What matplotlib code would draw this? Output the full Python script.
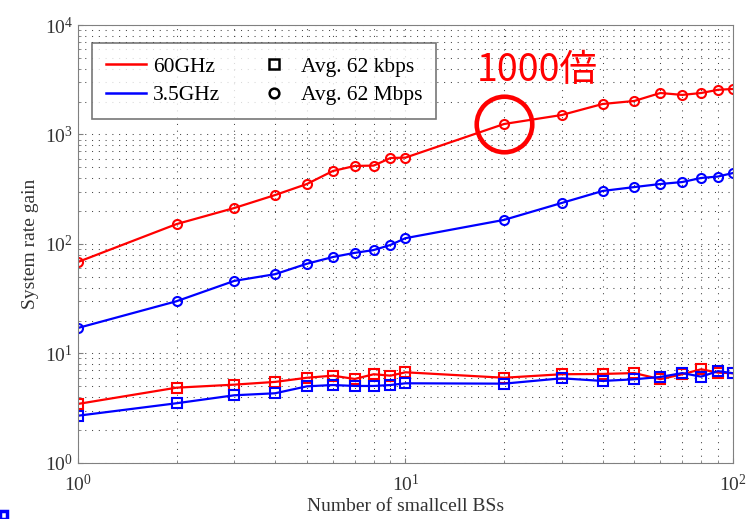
import matplotlib.pyplot as plt
import matplotlib.patches as mpatches
from matplotlib.lines import Line2D

# Number of small cell BSs
n_bs = [1, 2, 3, 4, 5, 6, 7, 8, 9, 10, 20, 30, 40, 50, 60, 70, 80, 90, 100]

# System rate gain, Avg. 62 Mbps (circles)
gain_60ghz_mbps = [68.5, 152, 213, 280, 353, 464, 516, 520, 610, 615,
                   1247, 1507, 1900, 2025, 2393, 2300, 2393, 2560, 2605]
gain_35ghz_mbps = [17.1, 30, 46, 53, 66, 76, 83, 88, 98, 113,
                   166, 237, 305, 331, 353, 368, 401, 413, 445]

# System rate gain, Avg. 62 kbps (squares)
gain_60ghz_kbps = [3.46, 4.87, 5.19, 5.5, 6.0, 6.27, 5.85, 6.46, 6.27, 6.73,
                   6.0, 6.46, 6.5, 6.62, 5.82, 6.46, 7.17, 6.68, 6.6]
gain_35ghz_kbps = [2.7, 3.51, 4.15, 4.33, 5.01, 5.15, 5.05, 5.05, 5.15, 5.34,
                   5.3, 5.93, 5.61, 5.81, 6.1, 6.62, 6.14, 6.9, 6.6]

plt.rcParams['font.family'] = ['Liberation Serif', 'DejaVu Serif']
plt.rcParams['mathtext.fontset'] = 'stix'

fig = plt.figure(figsize=(7.47, 5.19), dpi=100)
ax = fig.add_axes([0.1044, 0.108, 0.8768, 0.8438])

style = dict(linewidth=1.6, markersize=6.5, markeredgewidth=1.5,
             markerfacecolor='none')
ax.plot(n_bs, gain_60ghz_mbps, color='#ff0000', marker='o', **style)
ax.plot(n_bs, gain_35ghz_mbps, color='#0000ff', marker='o', **style)
ax.plot(n_bs, gain_60ghz_kbps, color='#ff0000', marker='s', **style)
ax.plot(n_bs, gain_35ghz_kbps, color='#0000ff', marker='s', **style)

ax.set_xscale('log')
ax.set_yscale('log')
ax.set_xlim(1, 100)
ax.set_ylim(1, 1e4)

ax.grid(True, which='both', linestyle=(0, (1, 5.5)), color='#444444', linewidth=0.75)
for s in ax.spines.values():
    s.set_color('#808080')
ax.tick_params(which='both', direction='in', colors='#808080', labelcolor='#333333',
               labelsize=14)
ax.tick_params(axis='x', pad=8)

ax.set_xlabel('Number of smallcell BSs', fontsize=14, color='#333333', labelpad=2)
ax.set_ylabel('System rate gain', fontsize=14, color='#333333', labelpad=4)

handles = [
    Line2D([], [], color='#ff0000', linewidth=1.8),
    Line2D([], [], color='#0000ff', linewidth=1.8),
    Line2D([], [], color='black', marker='s', linestyle='none', markersize=7,
           markerfacecolor='none', markeredgewidth=1.8),
    Line2D([], [], color='black', marker='o', linestyle='none', markersize=7,
           markerfacecolor='none', markeredgewidth=1.8),
]
labels = ['60GHz', '3.5GHz', 'Avg. 62 kbps', 'Avg. 62 Mbps']
leg = ax.legend(handles, labels, ncol=2, loc='upper left',
                bbox_to_anchor=(0.022, 0.959), fontsize=15.5, frameon=True,
                fancybox=False, edgecolor='#555555', handlelength=1.85,
                handletextpad=0.3, columnspacing=1.6, borderpad=0.65,
                labelspacing=0.38, borderaxespad=0)
leg.get_frame().set_linewidth(1.2)

# highlight circle and annotation
ax.plot([20], [1247], marker='o', markersize=40, markerfacecolor='none',
        markeredgecolor='#ff0000', markeredgewidth=3.3)
fig.text(537 / 747, 1 - 70 / 519, '1000倍', color='#ff0000', fontsize=27,
         ha='center', va='center', family=['Noto Sans CJK JP', 'DejaVu Sans'])

# small blue mark in the lower-left corner of the slide
fig.patches.append(mpatches.Rectangle((0, 0), 7 / 747, 8 / 519, transform=fig.transFigure,
                                      facecolor='none', edgecolor='#0000ff',
                                      linewidth=2.5))

fig.savefig('out.png', dpi=100)
